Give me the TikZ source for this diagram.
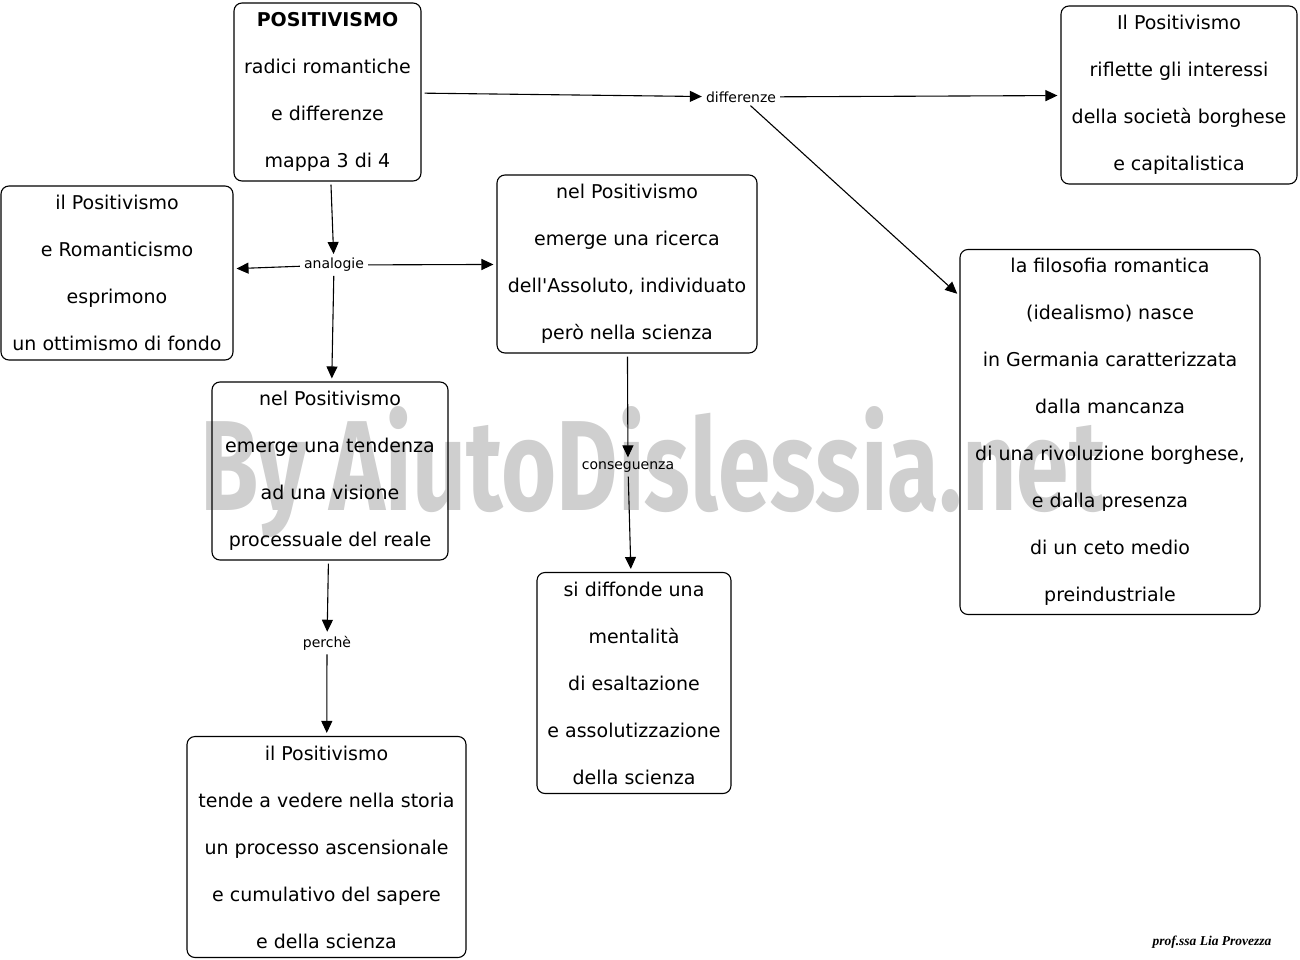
\documentclass[tikz,border=0pt]{standalone}
\usepackage{fontspec}
\setmainfont{DejaVu Sans}
\newfontfamily\markfont{Fira Sans}
\newfontfamily\signfont{Liberation Serif}
\usepackage{graphicx}
\usetikzlibrary{calc,
arrows.meta,
positioning}

\begin{document}
\begin{tikzpicture} [x = 1pt,
        y = -1pt,
        >={Triangle[length = 12pt, width = 11pt]},
        link/.style={->, line width = 1.1pt, shorten > = 3pt, shorten < = 3pt},
        box/.style={rectangle, rounded corners = 8pt, draw, line width = 1.1pt,
                align = center, inner sep = 0pt,
                font = \fontsize{19}{47}\selectfont},
        tag/.style={inner sep = 1pt, font = \fontsize{14}{16}\selectfont}]

    \useasboundingbox (0, 0) rectangle (1300, 960);

    \node [
        anchor = base west,
        inner sep = 0pt,
        text = black!19
    ] (mark) at (200, 510) {\resizebox{905pt}{104pt}{\markfont\bfseries By AiutoDislessia.net}};

    \node [
        box,
        minimum width = 187pt,
        minimum height = 178pt
    ] (pos) at (327.5, 92) {\textbf{POSITIVISMO}\\radici romantiche\\e differenze\\mappa 3 di 4};

    \node [
        box,
        minimum width = 236pt,
        minimum height = 178pt
    ] (borghese) at (1179, 95) {Il Positivismo\\riflette gli interessi\\della società borghese\\e capitalistica};

    \node [
        box,
        minimum width = 232pt,
        minimum height = 174pt
    ] (ottimismo) at (117, 273) {il Positivismo\\e Romanticismo\\esprimono\\un ottimismo di fondo};

    \node [
        box,
        minimum width = 260pt,
        minimum height = 178pt
    ] (ricerca) at (627, 264) {nel Positivismo\\emerge una ricerca\\dell\textquotesingle Assoluto, individuato\\però nella scienza};

    \node [
        box,
        minimum width = 300pt,
        minimum height = 365pt
    ] (romantica) at (1110, 432) {la filosofia romantica\\(idealismo) nasce\\in Germania caratterizzata\\dalla mancanza\\di una rivoluzione borghese,\\e dalla presenza\\di un ceto medio\\preindustriale};

    \node [
        box,
        minimum width = 236pt,
        minimum height = 178pt
    ] (tendenza) at (330, 471) {nel Positivismo\\emerge una tendenza\\ad una visione\\processuale del reale};

    \node [
        box,
        minimum width = 194pt,
        minimum height = 221pt
    ] (scienza) at (634, 683) {si diffonde una\\mentalità\\di esaltazione\\e assolutizzazione\\della scienza};

    \node [
        box,
        minimum width = 279pt,
        minimum height = 221pt
    ] (storia) at (326.5, 847) {il Positivismo\\tende a vedere nella storia\\un processo ascensionale\\e cumulativo del sapere\\e della scienza};

    \node [tag] (diff) at (741, 97) {differenze};
    \node [tag] (analog) at (334, 265) {analogie};
    \node [tag] (conseq) at (628, 467) {conseguenza};
    \node [tag] (perche) at (327, 643) {perchè};

    \draw [link] (pos) -- (diff);
    \draw [link] (diff) -- (borghese);
    \draw [link] (diff) -- (romantica);

    \draw [link] (pos) -- (analog);
    \draw [link] (analog) -- (ottimismo);
    \draw [link] (analog) -- (ricerca);
    \draw [link] (analog) -- (tendenza);

    \draw [link] (ricerca) -- (conseq);
    \draw [link] (conseq) -- (scienza);

    \draw [link] (tendenza) -- (perche);
    \draw [link] (perche) -- (storia);

    \node [
        anchor = east,
        font = \fontsize{13.5}{15}\selectfont
    ] (firma) at (1275, 942) {\signfont\bfseries\itshape prof.ssa Lia Provezza};

\end{tikzpicture}
\end{document}
